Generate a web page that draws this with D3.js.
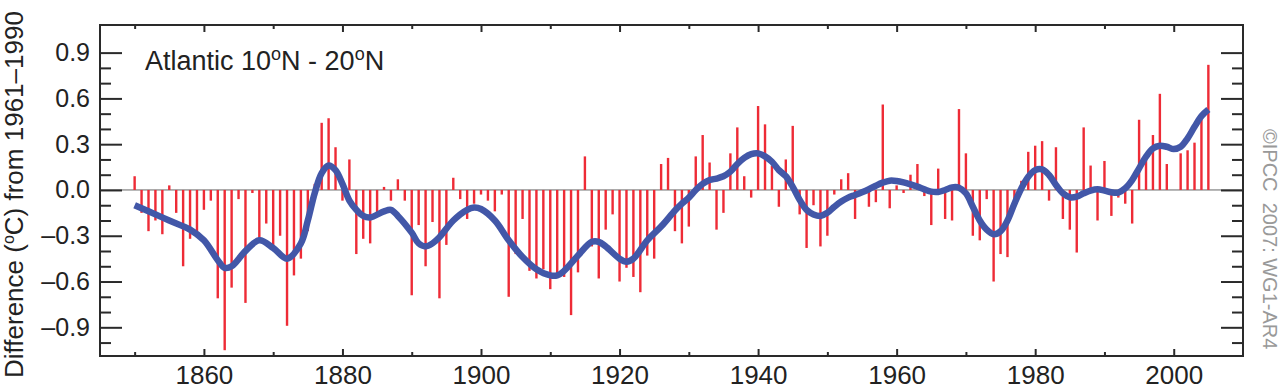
<!DOCTYPE html>
<html>
<head>
<meta charset="utf-8">
<script src="https://cdn.jsdelivr.net/npm/d3@7"></script>
<style>
  body { margin: 0; background: #fff; }
  svg { display: block; font-family: "Liberation Sans", Arial, Helvetica, sans-serif; }
</style>
</head>
<body>
<div id="chartContainer"></div>
<script>
// annual anomalies 1850-2005 (red bars)
const years = d3.range(1850, 2006);
const anomalies = [
  0.09, -0.15, -0.27, -0.20, -0.29, 0.03, -0.15, -0.50, -0.32, -0.31,
  -0.13, -0.07, -0.71, -1.05, -0.64, -0.06, -0.74, -0.02, -0.32, -0.22,
  -0.37, -0.30, -0.89, -0.56, -0.45, -0.27, 0.04, 0.44, 0.47, 0.28,
  -0.07, 0.20, -0.42, -0.32, -0.35, -0.17, 0.02, -0.07, 0.07, -0.07,
  -0.69, -0.23, -0.50, -0.21, -0.71, -0.36, 0.08, -0.06, -0.19, -0.09,
  -0.03, -0.07, -0.14, -0.03, -0.70, -0.42, -0.19, -0.53, -0.58, -0.52,
  -0.65, -0.55, -0.57, -0.82, -0.54, 0.22, -0.37, -0.58, -0.26, -0.16,
  -0.60, -0.51, -0.57, -0.67, -0.43, -0.45, 0.17, 0.21, -0.27, -0.35,
  -0.24, 0.22, 0.36, 0.18, -0.26, -0.15, 0.24, 0.41, 0.09, -0.05,
  0.55, 0.43, 0.16, -0.11, 0.20, 0.42, -0.16, -0.38, -0.10, -0.37,
  -0.30, -0.03, 0.07, 0.11, -0.19, -0.02, -0.11, -0.08, 0.56, -0.12,
  0.03, -0.02, 0.10, 0.17, -0.04, -0.23, 0.14, -0.19, -0.20, 0.53,
  0.24, -0.30, -0.33, -0.06, -0.60, -0.42, -0.44, -0.06, 0.06, 0.25,
  0.29, 0.32, -0.07, 0.28, -0.19, -0.26, -0.41, 0.41, 0.16, -0.20,
  0.19, -0.17, -0.05, -0.09, -0.22, 0.46, 0.23, 0.36, 0.63, 0.17,
  0.00, 0.24, 0.26, 0.31, 0.46, 0.82
];

// smoothed curve (blue line)
const smoothYears = [
  1850, 1852, 1855, 1858, 1860, 1862, 1863, 1864, 1866, 1868,
  1870, 1872, 1874, 1875, 1876, 1877, 1878, 1879, 1880, 1881,
  1882, 1883, 1884, 1886, 1887, 1888, 1890, 1891, 1892, 1893,
  1894, 1896, 1898, 1899, 1900, 1902, 1904, 1906, 1908, 1910,
  1911, 1912, 1914, 1916, 1917, 1918, 1920, 1921, 1922, 1924,
  1926, 1928, 1929, 1930, 1931, 1932, 1933, 1934, 1935, 1936,
  1937, 1938, 1939, 1940, 1941, 1942, 1943, 1944, 1945, 1946,
  1947, 1948, 1949, 1950, 1951, 1952, 1953, 1954, 1955, 1956,
  1957, 1958, 1959, 1960, 1961, 1962, 1963, 1964, 1965, 1966,
  1967, 1968, 1969, 1970, 1971, 1972, 1973, 1974, 1975, 1976,
  1977, 1978, 1979, 1980, 1981, 1982, 1983, 1984, 1985, 1986,
  1987, 1988, 1989, 1990, 1991, 1992, 1993, 1994, 1995, 1996,
  1997, 1998, 1999, 2000, 2001, 2002, 2003, 2004, 2005
];
const smoothValues = [
  -0.10, -0.14, -0.20, -0.26, -0.33, -0.46, -0.51, -0.50, -0.40, -0.33,
  -0.38, -0.45, -0.35, -0.20, -0.02, 0.11, 0.16, 0.13, 0.04, -0.07,
  -0.13, -0.17, -0.18, -0.14, -0.13, -0.17, -0.28, -0.35, -0.37, -0.35,
  -0.31, -0.20, -0.13, -0.115, -0.125, -0.20, -0.33, -0.44, -0.52, -0.56,
  -0.56, -0.53, -0.43, -0.34, -0.34, -0.37, -0.45, -0.47, -0.45, -0.33,
  -0.24, -0.135, -0.09, -0.05, 0.00, 0.04, 0.065, 0.075, 0.09, 0.12,
  0.17, 0.21, 0.235, 0.24, 0.22, 0.185, 0.13, 0.09, 0.02, -0.065,
  -0.13, -0.16, -0.17, -0.15, -0.11, -0.075, -0.05, -0.033, -0.015, 0.005,
  0.028, 0.048, 0.061, 0.059, 0.05, 0.037, 0.022, 0.004, -0.011, -0.013,
  0.00, 0.017, 0.015, -0.022, -0.11, -0.20, -0.26, -0.29, -0.27, -0.20,
  -0.09, 0.01, 0.087, 0.13, 0.135, 0.098, 0.033, -0.022, -0.048, -0.044,
  -0.022, -0.004, 0.004, -0.004, -0.015, -0.017, 0.011, 0.065, 0.142, 0.218,
  0.272, 0.29, 0.283, 0.268, 0.283, 0.338, 0.414, 0.484, 0.527
];

const yMajorTicks = [-0.9, -0.6, -0.3, 0.0, 0.3, 0.6, 0.9];
const yMinorTicks = [-1.0, -0.8, -0.7, -0.5, -0.4, -0.2, -0.1, 0.1, 0.2, 0.4, 0.5, 0.7, 0.8];
const xMajorTicks = [1860, 1880, 1900, 1920, 1940, 1960, 1980, 2000];
const xMinorTicks = [1850, 1870, 1890, 1910, 1930, 1950, 1970, 1990];

const titleText = "Atlantic 10";
const yLabelText = "Difference (";
const creditText = "©IPCC  2007: WG1-AR4";

const width = 1280, height = 389;
const margin = { left: 100, right: 1243, top: 25, bottom: 356 };

const svg = d3.select("#chartContainer")
  .append("svg")
  .attr("width", width)
  .attr("height", height);

const x = d3.scaleLinear().domain([1845, 2010]).range([margin.left, margin.right]);
const y = d3.scaleLinear().domain([-1.088, 1.081]).range([margin.bottom, margin.top]);

// zero line
svg.append("line")
  .attr("x1", margin.left).attr("x2", margin.right)
  .attr("y1", y(0)).attr("y2", y(0))
  .attr("stroke", "#666")
  .attr("stroke-width", 1);

// bars
const barWidth = 2.4;
svg.selectAll(".bar")
  .data(years.map((yr, i) => ({ yr, v: anomalies[i] })))
  .enter().append("rect")
  .attr("class", "bar")
  .attr("x", d => x(d.yr) - barWidth / 2)
  .attr("y", d => y(Math.max(0, d.v)))
  .attr("width", barWidth)
  .attr("height", d => Math.abs(y(d.v) - y(0)))
  .attr("fill", "#ee2b36");

// smooth line
const line = d3.line()
  .x(d => x(d[0]))
  .y(d => y(d[1]))
  .curve(d3.curveCatmullRom.alpha(0.5));

svg.append("path")
  .datum(smoothYears.map((yr, i) => [yr, smoothValues[i]]))
  .attr("d", line)
  .attr("fill", "none")
  .attr("stroke", "#4257a8")
  .attr("stroke-width", 6.5)
  .attr("stroke-linecap", "butt")
  .attr("stroke-linejoin", "round");

// axes (ticks point inward)
function drawAxis(axis, transform) {
  const g = svg.append("g")
    .attr("transform", transform)
    .call(axis);
  g.select(".domain").remove();
  g.selectAll(".tick line").attr("stroke", "#2a2a2a").attr("stroke-width", 2);
  return g;
}

const gy = drawAxis(d3.axisLeft(y).tickValues(yMajorTicks).tickSize(-22).tickPadding(10)
  .tickFormat(d => d3.format(".1f")(d).replace("-", "–").replace("−", "–")), `translate(${margin.left},0)`);
gy.selectAll("text").attr("font-size", 25).attr("fill", "#222")
  .attr("font-family", "Liberation Sans, Arial, sans-serif");
drawAxis(d3.axisLeft(y).tickValues(yMinorTicks).tickSize(-11).tickFormat(""), `translate(${margin.left},0)`);
drawAxis(d3.axisRight(y).tickValues(yMajorTicks).tickSize(-22).tickFormat(""), `translate(${margin.right},0)`);
drawAxis(d3.axisRight(y).tickValues(yMinorTicks).tickSize(-11).tickFormat(""), `translate(${margin.right},0)`);

const gx = drawAxis(d3.axisBottom(x).tickValues(xMajorTicks).tickSize(-7).tickPadding(10)
  .tickFormat(d3.format("d")), `translate(0,${margin.bottom})`);
gx.selectAll("text").attr("font-size", 26).attr("fill", "#222")
  .attr("font-family", "Liberation Sans, Arial, sans-serif");
drawAxis(d3.axisBottom(x).tickValues(xMinorTicks).tickSize(-4).tickFormat(""), `translate(0,${margin.bottom})`);
drawAxis(d3.axisTop(x).tickValues(xMajorTicks).tickSize(-7).tickFormat(""), `translate(0,${margin.top})`);
drawAxis(d3.axisTop(x).tickValues(xMinorTicks).tickSize(-4).tickFormat(""), `translate(0,${margin.top})`);

// frame
svg.append("rect")
  .attr("x", margin.left).attr("y", margin.top)
  .attr("width", margin.right - margin.left).attr("height", margin.bottom - margin.top)
  .attr("fill", "none")
  .attr("stroke", "#2a2a2a")
  .attr("stroke-width", 2);

// title with superscript degree 'o'
const title = svg.append("text")
  .attr("x", 145).attr("y", 70)
  .attr("font-size", 27)
  .attr("fill", "#222");
title.append("tspan").text(titleText);
title.append("tspan").attr("dy", -10).attr("font-size", 18).text("o");
title.append("tspan").attr("dy", 10).text("N - 20");
title.append("tspan").attr("dy", -10).attr("font-size", 18).text("o");
title.append("tspan").attr("dy", 10).text("N");

// y axis label
const ylab = svg.append("text")
  .attr("transform", "translate(23,378) rotate(-90)")
  .attr("font-size", 26)
  .attr("fill", "#222");
ylab.append("tspan").text(yLabelText);
ylab.append("tspan").attr("dy", -9).attr("font-size", 16).text("o");
ylab.append("tspan").attr("dy", 9).text("C) from 1961–1990");

// credit
svg.append("text")
  .attr("transform", "translate(1263,129) rotate(90)")
  .attr("font-size", 20)
  .attr("fill", "#999")
  .style("white-space", "pre")
  .text(creditText);
</script>
</body>
</html>
